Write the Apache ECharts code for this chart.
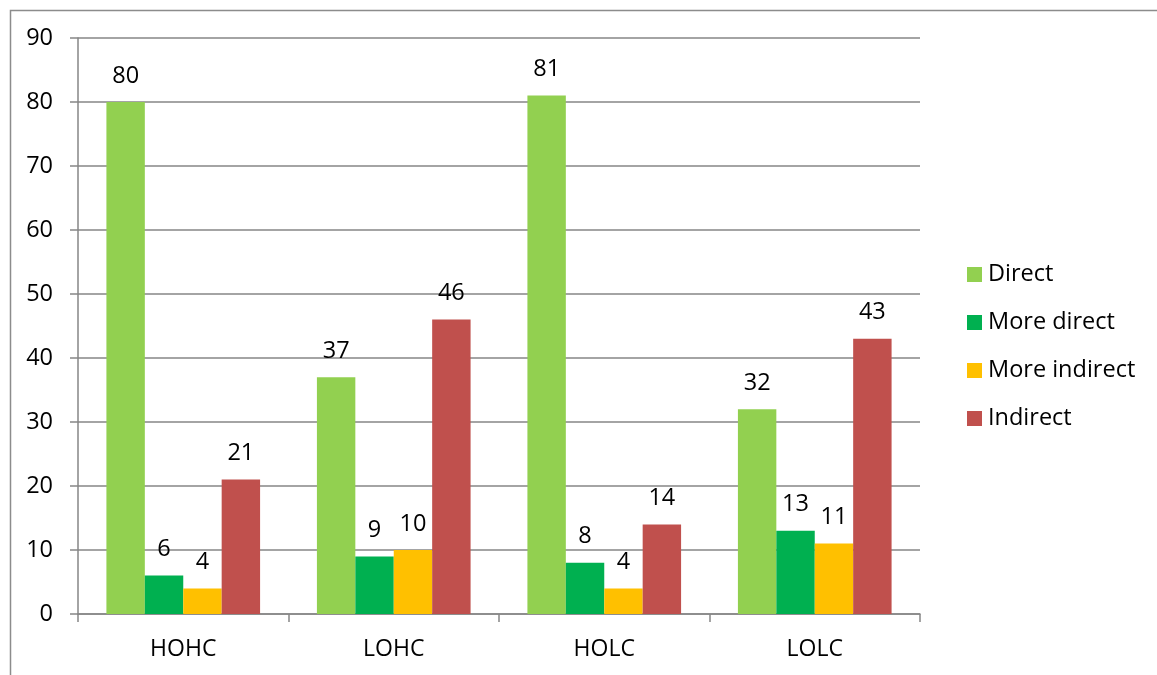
<!DOCTYPE html>
<html><head><meta charset="utf-8">
<script src="https://cdn.jsdelivr.net/npm/echarts@6/dist/echarts.min.js"></script>
<style>html,body{margin:0;padding:0;background:#fff}#c{width:1157px;height:675px}</style>
</head><body><div id="c"></div>
<script>
const categories = ['HOHC', 'LOHC', 'HOLC', 'LOLC'];
const seriesNames = ['Direct', 'More direct', 'More indirect', 'Indirect'];
const direct = [80, 37, 81, 32];
const moreDirect = [6, 9, 8, 13];
const moreIndirect = [4, 10, 4, 11];
const indirect = [21, 46, 14, 43];
const yTicks = [0, 10, 20, 30, 40, 50, 60, 70, 80, 90];
const colors = ['#92D050', '#00B050', '#FFC000', '#C0504D'];
const values = [direct, moreDirect, moreIndirect, indirect];
const font = '"Open Sans", Lato, sans-serif';

const chart = echarts.init(document.getElementById('c'));
chart.setOption({
  animation: false,
  textStyle: { fontFamily: font },
  graphic: [{
    type: 'rect', left: 8, top: 8, z: -10,
    shape: { width: 1200, height: 700 },
    style: { fill: 'none', stroke: '#8c8c8c', lineWidth: 1.5 }
  }],
  grid: { left: 78, right: 237, top: 38, bottom: 61 },
  legend: {
    orient: 'vertical', left: 962, top: 254,
    itemWidth: 15, itemHeight: 15, itemGap: 17,
    icon: 'rect',
    textStyle: { fontSize: 23.5, color: '#000', fontFamily: font, lineHeight: 31, padding: [0, 0, 0, 1] },
    data: seriesNames
  },
  xAxis: {
    type: 'category', data: categories,
    axisLine: { lineStyle: { color: '#868686', width: 1.5 } },
    axisTick: { show: true, length: 8, lineStyle: { color: '#868686', width: 1.5 } },
    axisLabel: { fontSize: 23, color: '#000', margin: 24, fontFamily: font }
  },
  yAxis: {
    type: 'value', min: yTicks[0], max: yTicks[yTicks.length - 1], interval: 10,
    axisLine: { show: true, lineStyle: { color: '#868686', width: 1.5 } },
    axisTick: { show: true, length: 8, lineStyle: { color: '#868686', width: 1.5 } },
    splitLine: { lineStyle: { color: '#868686', width: 1.5 } },
    axisLabel: { fontSize: 23.5, color: '#000', margin: 25, fontFamily: font }
  },
  series: seriesNames.map((n, i) => ({
    name: n, type: 'bar', data: values[i],
    itemStyle: { color: colors[i] },
    barGap: '0%', barCategoryGap: '27%',
    label: { show: true, position: 'top', distance: 14, fontSize: 23.5, color: '#000', fontFamily: font }
  }))
});
</script></body></html>
